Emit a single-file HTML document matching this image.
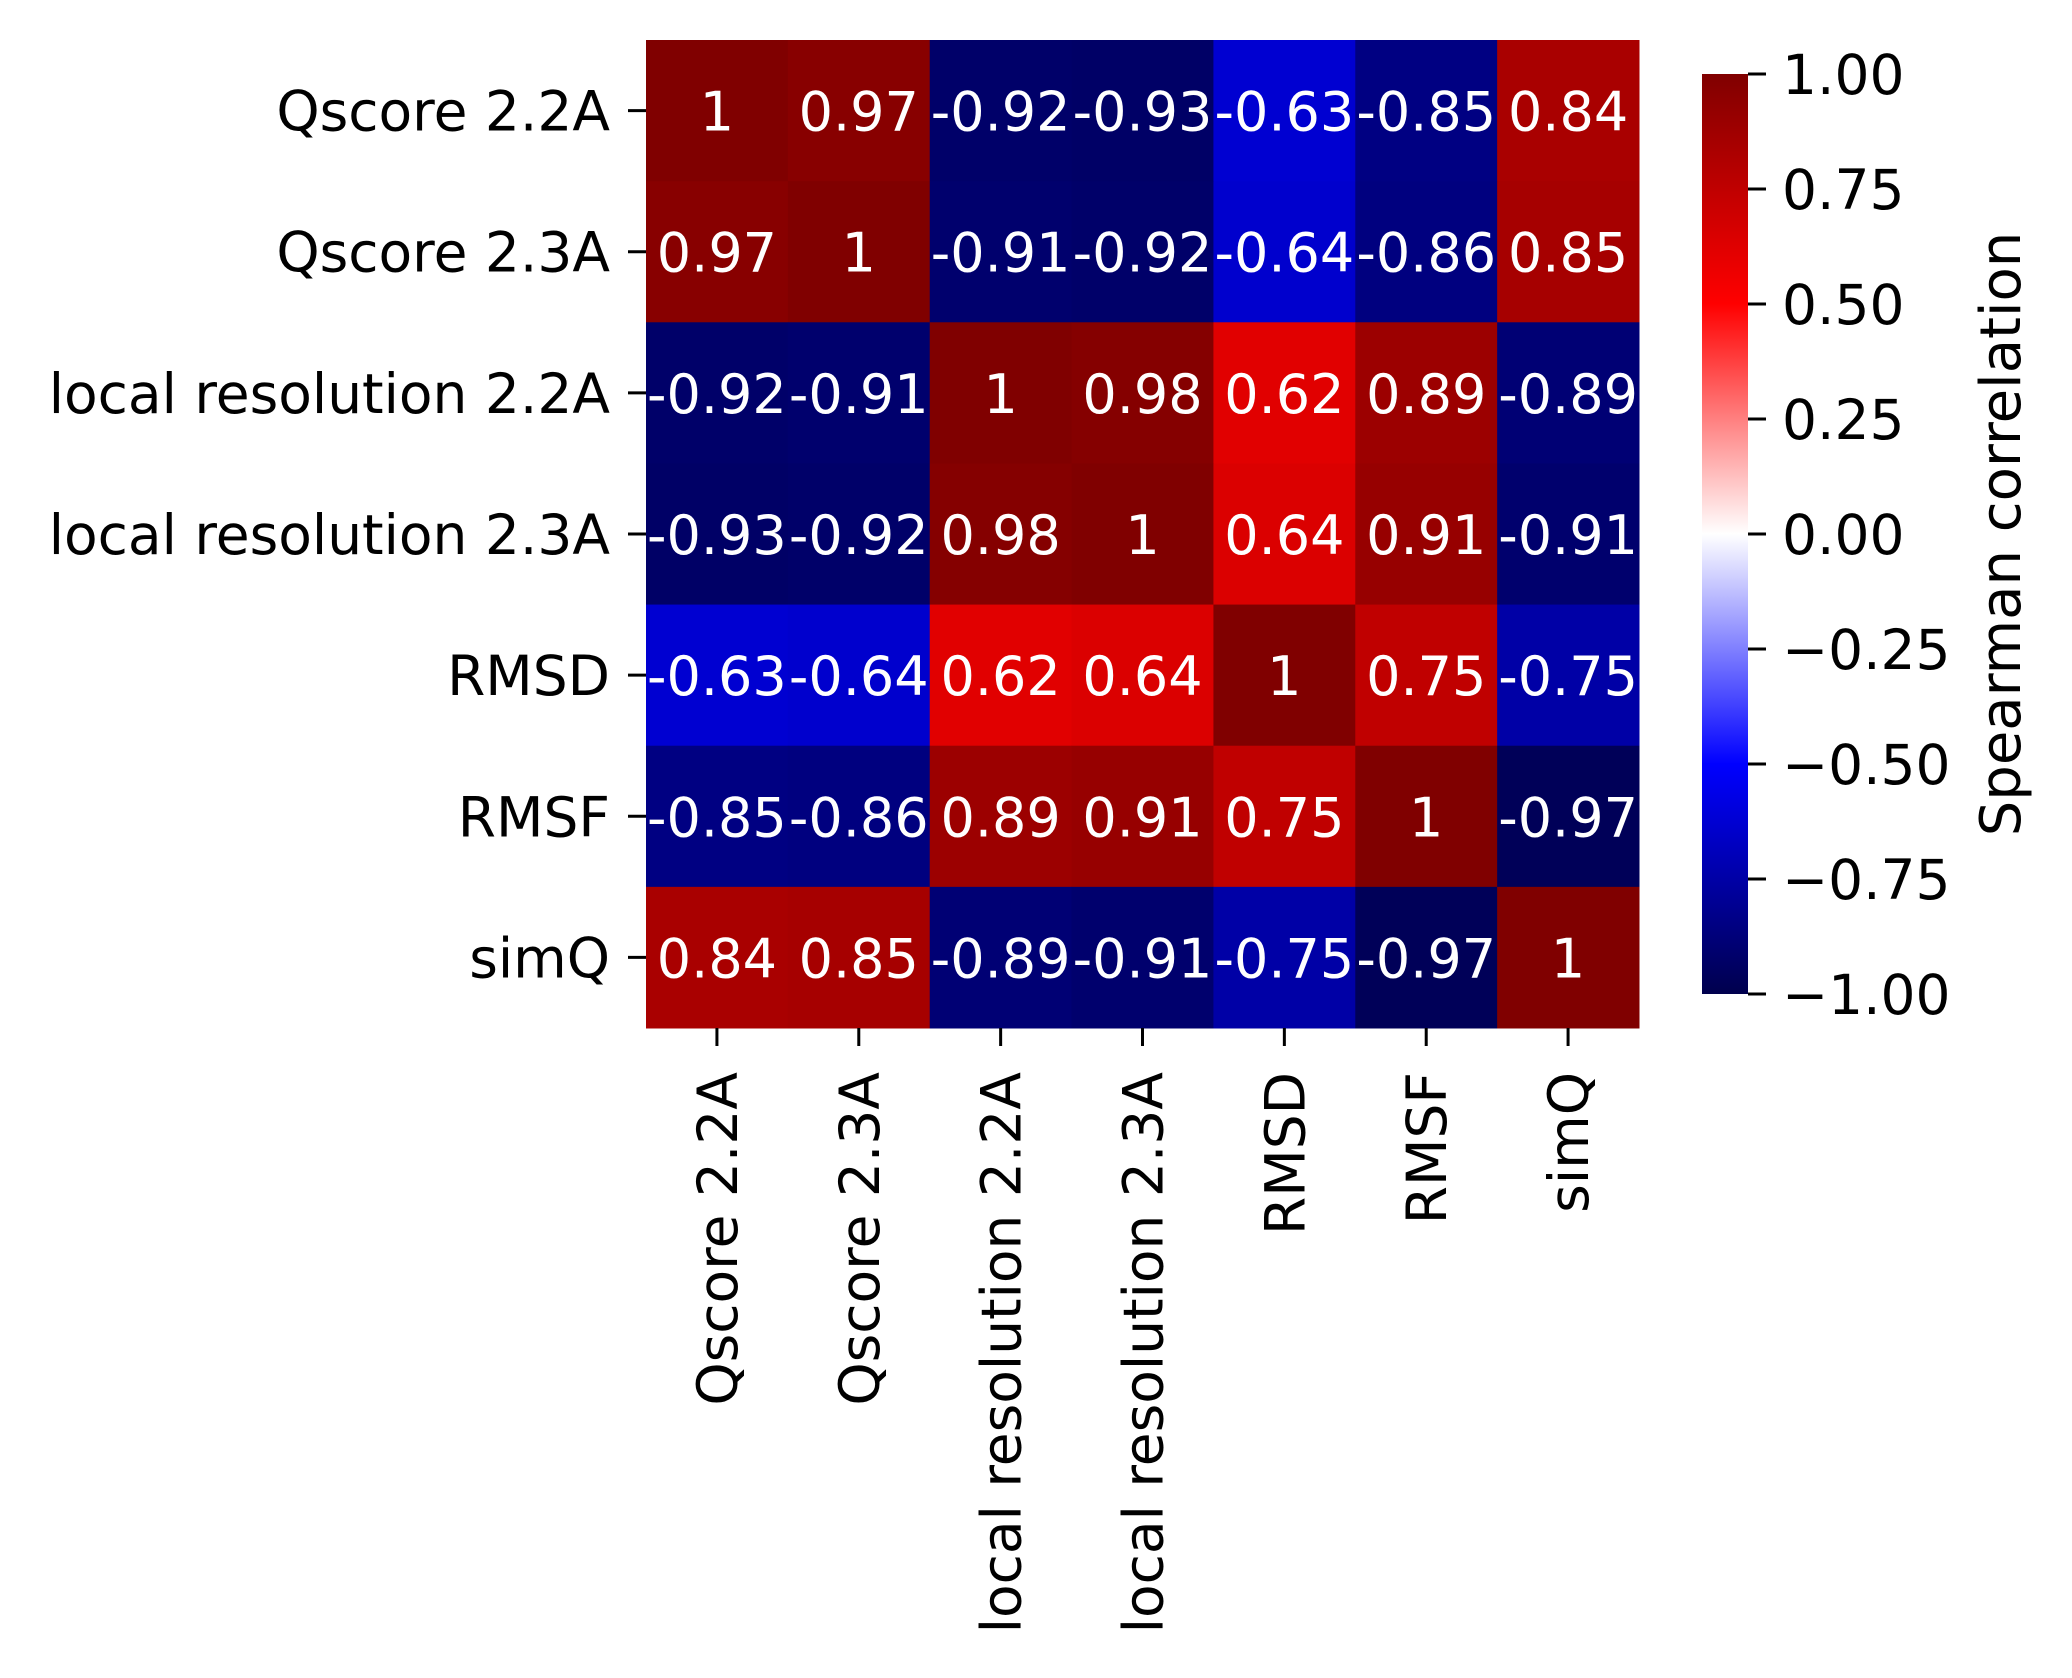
<!DOCTYPE html>
<html><head><meta charset="utf-8"><style>
html,body{margin:0;padding:0;background:#fff;}
svg{display:block;font-family:"DejaVu Sans","Liberation Sans",sans-serif;}
</style></head><body>
<svg id="chart" width="2072" height="1678" viewBox="0 0 2072 1678" xmlns="http://www.w3.org/2000/svg">
<g id="cells"></g>
<g id="annots"></g>
<g id="yaxis"></g>
<g id="xaxis"></g>
<defs><linearGradient id="cgrad" x1="0" y1="1" x2="0" y2="0">
<stop offset="0" stop-color="rgb(0,0,77)"/><stop offset="0.25" stop-color="rgb(0,0,255)"/>
<stop offset="0.5" stop-color="rgb(255,255,255)"/><stop offset="0.75" stop-color="rgb(255,0,0)"/>
<stop offset="1" stop-color="rgb(128,0,0)"/></linearGradient></defs>
<rect x="1702" y="74" width="46" height="920" fill="url(#cgrad)"/>
<g id="cbar"></g>
<text transform="translate(2020,534) rotate(-90)" text-anchor="middle" font-size="56" fill="#000">Spearman correlation</text>
</svg>
<script>
const labels = ["Qscore 2.2A","Qscore 2.3A","local resolution 2.2A","local resolution 2.3A","RMSD","RMSF","simQ"];
const matrix = [
[1,0.97,-0.92,-0.93,-0.63,-0.85,0.84],
[0.97,1,-0.91,-0.92,-0.64,-0.86,0.85],
[-0.92,-0.91,1,0.98,0.62,0.89,-0.89],
[-0.93,-0.92,0.98,1,0.64,0.91,-0.91],
[-0.63,-0.64,0.62,0.64,1,0.75,-0.75],
[-0.85,-0.86,0.89,0.91,0.75,1,-0.97],
[0.84,0.85,-0.89,-0.91,-0.75,-0.97,1]];
const cbarTicks = [1,0.75,0.5,0.25,0,-0.25,-0.5,-0.75,-1];
const NS="http://www.w3.org/2000/svg";
const X0=646,X1=1639,Y0=40,Y1=1028;
const n=labels.length, cw=(X1-X0)/n, ch=(Y1-Y0)/n;
const xs=i=>X0+i*cw, ys=j=>Y0+j*ch;
const CB0=74,CB1=994; const cy=v=>CB1-(v+1)/2*(CB1-CB0);
function seismic(v){const t=(v+1)/2;const st=[[0,0,0,77],[0.25,0,0,255],[0.5,255,255,255],[0.75,255,0,0],[1,128,0,0]];
for(let k=0;k<4;k++){const a=st[k],b=st[k+1];if(t<=b[0]){const f=(t-a[0])/(b[0]-a[0]);return `rgb(${Math.round(a[1]+f*(b[1]-a[1]))},${Math.round(a[2]+f*(b[2]-a[2]))},${Math.round(a[3]+f*(b[3]-a[3]))})`;}}return "rgb(128,0,0)";}
function mk(tag,attrs,parent,txt){const e=document.createElementNS(NS,tag);for(const k in attrs)e.setAttribute(k,attrs[k]);if(txt!==undefined)e.textContent=txt;parent.appendChild(e);return e;}
const cells=document.getElementById('cells'),ann=document.getElementById('annots');
const ya=document.getElementById('yaxis'),xa=document.getElementById('xaxis'),cb=document.getElementById('cbar');
for(let r=0;r<n;r++)for(let c=0;c<n;c++){
 const v=matrix[r][c];
 const rc=mk('rect',{x:xs(c),y:ys(r),width:cw+0.5,height:ch+0.5,fill:seismic(v)},cells);
 
 
 const t=mk('text',{x:xs(c)+cw/2,y:ys(r)+ch/2+20,'text-anchor':'middle','font-size':54,fill:'#fff'},ann,String(v));
 
 
}
for(let i=0;i<n;i++){
 const y=ys(i)+ch/2;
 mk('line',{x1:X0-18,x2:X0,y1:y,y2:y,stroke:'#000','stroke-width':3},ya);
 const t=mk('text',{x:X0-36,y:y+20,'text-anchor':'end','font-size':55,fill:'#000'},ya,labels[i]);
 
 
 const x=xs(i)+cw/2;
 mk('line',{x1:x,x2:x,y1:Y1,y2:Y1+18,stroke:'#000','stroke-width':3},xa);
 const u=mk('text',{transform:`translate(${x+20},${Y1+44}) rotate(-90)`,'text-anchor':'end','font-size':55,fill:'#000'},xa,labels[i]);
 
 
}
for(const v of cbarTicks){
 const y=cy(v);
 mk('line',{x1:1748,x2:1766,y1:y,y2:y,stroke:'#000','stroke-width':3},cb);
 const t=mk('text',{x:1782,y:y+20,'font-size':55,fill:'#000'},cb,(v<0?'\u2212':'')+Math.abs(v).toFixed(2));
 
 
}
</script>
</body></html>
